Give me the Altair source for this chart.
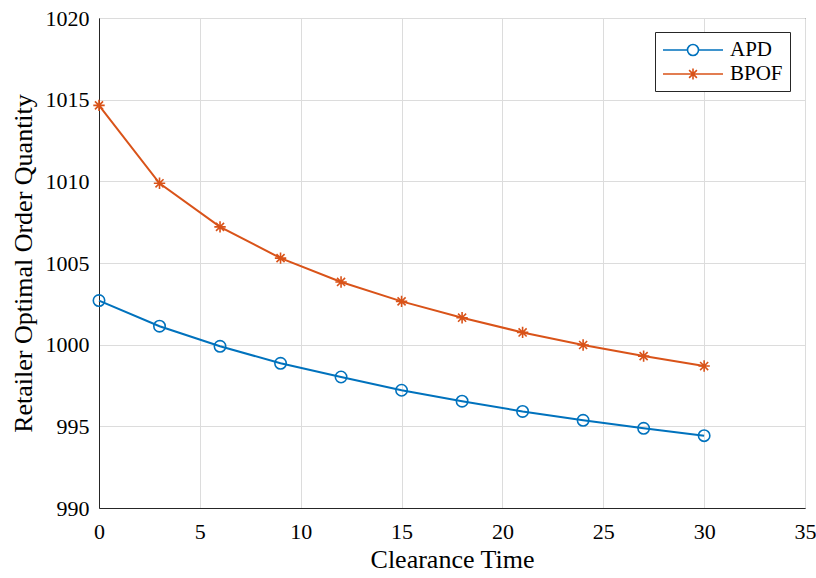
import altair as alt
import pandas as pd

clearance_time = [0, 3, 6, 9, 12, 15, 18, 21, 24, 27, 30]
apd = [1002.70, 1001.13, 999.90, 998.86, 998.02, 997.21, 996.54, 995.91, 995.37, 994.88, 994.43]
bpof = [1014.65, 1009.88, 1007.21, 1005.30, 1003.84, 1002.65, 1001.65, 1000.75, 999.98, 999.30, 998.69]
series_names = ["APD", "BPOF"]
colors = ["#0072BD", "#D95319"]
x_ticks = [0, 5, 10, 15, 20, 25, 30, 35]
y_ticks = [990, 995, 1000, 1005, 1010, 1015, 1020]

rows = []
for name, vals in zip(series_names, [apd, bpof]):
    for t, v in zip(clearance_time, vals):
        rows.append({"t": t, "q": v, "series": name})
df = pd.DataFrame(rows)

FONT = "Liberation Serif"
ASTERISK = "M0,-1L0,1M-1,0L1,0M-0.707,-0.707L0.707,0.707M-0.707,0.707L0.707,-0.707"
LEG_CIRCLE = "M-1,0L1.45,0M2.55,0L5,0M2.55,0A0.55,0.55 0 1,1 1.45,0A0.55,0.55 0 1,1 2.55,0"
LEG_STAR = "M-1,0L5,0M2,-0.55L2,0.55M1.45,0L2.55,0M1.61,-0.39L2.39,0.39M1.61,0.39L2.39,-0.39"

legend_spec = alt.Legend(
    title=None, orient="none", legendX=556, legendY=14,
    fillColor="white", strokeColor="#262626", padding=7,
    labelFont=FONT, labelFontSize=21, labelColor="#000000",
    labelOffset=46, rowPadding=3, symbolSize=400, symbolStrokeWidth=1.6,
    symbolFillColor="transparent", cornerRadius=0,
)
color_enc = alt.Color("series:N", scale=alt.Scale(domain=series_names, range=colors), legend=legend_spec)

axis_common = dict(
    labelFont=FONT, labelFontSize=22, labelColor="#000000",
    titleFont=FONT, titleFontSize=26, titleColor="#000000", titleFontWeight="normal",
    labelFlush=False, format="d", tickSize=0,
)
x_enc = alt.X("t:Q", scale=alt.Scale(domain=[0, 35], nice=False),
              axis=alt.Axis(title="Clearance Time", values=x_ticks, labelPadding=13,
                            titlePadding=4, **axis_common))
y_enc = alt.Y("q:Q", scale=alt.Scale(domain=[990, 1020], nice=False, zero=False),
              axis=alt.Axis(title="Retailer Optimal Order Quantity", values=y_ticks,
                            labelPadding=10, titlePadding=9, **axis_common))

base = alt.Chart(df)
lines = base.mark_line(strokeWidth=2).encode(x=x_enc, y=y_enc, color=color_enc)
pts_apd = base.transform_filter(alt.datum.series == "APD").mark_point(
    shape="circle", size=130, strokeWidth=1.6, filled=False, opacity=1
).encode(x=x_enc, y=y_enc, color=color_enc)
pts_bpof = base.transform_filter(alt.datum.series == "BPOF").mark_point(
    shape=ASTERISK, size=130, strokeWidth=1.6, filled=False, opacity=1
).encode(x=x_enc, y=y_enc, color=color_enc)
legend_layer = base.transform_filter("false").mark_point(
    filled=False, size=400, strokeWidth=1.6, opacity=1
).encode(
    color=color_enc,
    shape=alt.Shape("series:N", scale=alt.Scale(domain=series_names, range=[LEG_CIRCLE, LEG_STAR]), legend=legend_spec),
)

chart = alt.layer(lines, pts_apd, pts_bpof, legend_layer).properties(
    width=706, height=490,
    autosize=alt.AutoSizeParams(type="none"),
    padding={"left": 99, "top": 18, "right": 11, "bottom": 70},
    background="white",
).configure(font=FONT).configure_view(
    stroke="#262626", strokeWidth=1,
).configure_axis(
    labelFont=FONT, titleFont=FONT,
    domainColor="#262626", domainWidth=1,
    grid=True, gridColor="#dcdcdc", gridWidth=1,
)

chart.save("out.html", embed_options={"renderer": "svg", "actions": False})
